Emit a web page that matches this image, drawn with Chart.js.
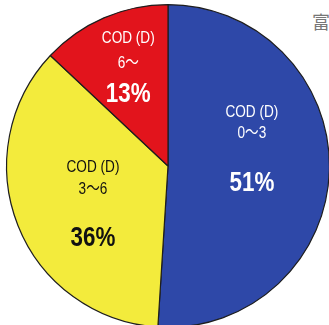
<!DOCTYPE html>
<html>
<head>
<meta charset="utf-8">
<script src="https://cdn.jsdelivr.net/npm/chart.js@4.4.1/dist/chart.umd.min.js"></script>
<style>
  html, body { margin: 0; padding: 0; background: #fff; overflow: hidden; }
  body { width: 329px; height: 325px; position: relative; }
  #wrap { position: absolute; left: 0; top: -2px; width: 336px; height: 336px; }
  #bg { position: absolute; left: 312px; top: 8px; font: 18px "Noto Sans CJK JP"; color: #777; }
</style>
</head>
<body>
<div id="bg">富</div>
<div id="wrap"><canvas id="chart"></canvas></div>
<script>
const categories = ['COD (D)\n0～3', 'COD (D)\n3～6', 'COD (D)\n6～'];
const shares = [51, 36, 13];
const sliceColors = ['#2e48a8', '#f3eb3c', '#e2141c'];
const textColors = ['#ffffff', '#111111', '#ffffff'];

// label placement per slice: radial fraction, then line offsets (px) from that point
const labelLayout = [
    { r: 0.52, lines: [-56, -35, 15] },
    { r: 0.50, lines: [-28, -6, 43] },
    { r: 0.62, lines: [-36, -11, 20] }
];

function narrowText(ctx, text, x, y) {
    ctx.save();
    ctx.translate(x, y);
    ctx.scale(0.8, 1);
    ctx.fillText(text, 0, 0);
    ctx.restore();
}

const sliceLabels = {
    id: 'sliceLabels',
    afterDatasetsDraw(chart) {
        const ctx = chart.ctx;
        const meta = chart.getDatasetMeta(0);
        meta.data.forEach((arc, i) => {
            const p = arc.getProps(['x', 'y', 'startAngle', 'endAngle', 'outerRadius'], true);
            const mid = (p.startAngle + p.endAngle) / 2;
            const cx = p.x + Math.cos(mid) * p.outerRadius * labelLayout[i].r;
            const cy = p.y + Math.sin(mid) * p.outerRadius * labelLayout[i].r;
            const parts = categories[i].split('\n');
            const offs = labelLayout[i].lines;
            ctx.save();
            ctx.fillStyle = textColors[i];
            ctx.textAlign = 'center';
            ctx.textBaseline = 'middle';
            ctx.font = '17px "Liberation Sans", "Noto Sans CJK JP", sans-serif';
            narrowText(ctx, parts[0], cx, cy + offs[0]);
            narrowText(ctx, parts[1], cx, cy + offs[1]);
            ctx.font = 'bold 28px "Liberation Sans", Arial, sans-serif';
            narrowText(ctx, shares[i] + '%', cx, cy + offs[2]);
            ctx.restore();
        });
    }
};

new Chart(document.getElementById('chart').getContext('2d'), {
    type: 'pie',
    data: {
        labels: categories,
        datasets: [{
            data: shares,
            backgroundColor: sliceColors,
            borderColor: '#1e1e1e',
            borderWidth: 1.2
        }]
    },
    options: {
        responsive: true,
        maintainAspectRatio: false,
        animation: false,
        layout: { padding: 6 },
        plugins: {
            legend: { display: false },
            tooltip: { enabled: false }
        }
    },
    plugins: [sliceLabels]
});
</script>
</body>
</html>
